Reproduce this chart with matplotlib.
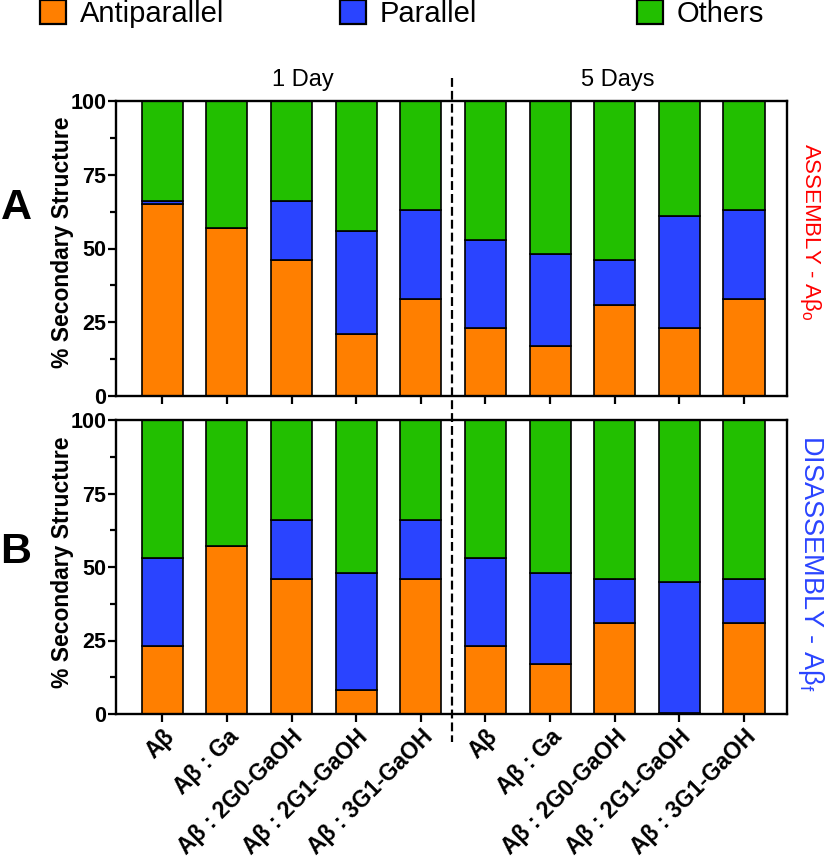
import matplotlib
matplotlib.use('Agg')
import matplotlib.pyplot as plt
from matplotlib.patches import Rectangle
from matplotlib.lines import Line2D
import matplotlib.transforms as mtransforms
from matplotlib.ticker import MultipleLocator
import numpy as np

plt.rcParams['font.family'] = ['Liberation Sans', 'DejaVu Sans']
plt.rcParams['mathtext.fontset'] = 'custom'
plt.rcParams['mathtext.rm'] = 'Liberation Sans'
plt.rcParams['mathtext.it'] = 'Liberation Sans:italic'
plt.rcParams['mathtext.bf'] = 'Liberation Sans:bold'

# ---------------- data ----------------
categories = ['Aβ', 'Aβ : Ga', 'Aβ : 2G0-GaOH', 'Aβ : 2G1-GaOH', 'Aβ : 3G1-GaOH',
              'Aβ', 'Aβ : Ga', 'Aβ : 2G0-GaOH', 'Aβ : 2G1-GaOH', 'Aβ : 3G1-GaOH']
groups = ['1 Day', '5 Days']
series_names = ['Antiparallel', 'Parallel', 'Others']

antiparallel_A = [65, 57, 46, 21, 33, 23, 17, 31, 23, 33]
parallel_A = [1, 0, 20, 35, 30, 30, 31, 15, 38, 30]
others_A = [34, 43, 34, 44, 37, 47, 52, 54, 39, 37]

antiparallel_B = [23, 57, 46, 8, 46, 23, 17, 31, 0.5, 31]
parallel_B = [30, 0, 20, 40, 20, 30, 31, 15, 44.5, 15]
others_B = [47, 43, 34, 52, 34, 47, 52, 54, 55, 54]

yticks = [0, 25, 50, 75, 100]
panel_labels = ['A', 'B']
side_labels = ['ASSEMBLY - Aβ$_{\\mathrm{o}}$', 'DISASSEMBLY - Aβ$_{\\mathrm{f}}$']

# ---------------- style ----------------
colors = ['#FF7F00', '#2A44FF', '#22BF00']
side_colors = ['#FF0000', '#2A44FF']

W, H = 827, 858
fig = plt.figure(figsize=(W / 100, H / 100), dpi=100)


def fx(px):
    return px / W


def fy(py):
    return 1 - py / H


L, R = 116, 787
axA = fig.add_axes([fx(L), fy(396), fx(R) - fx(L), fy(101) - fy(396)])
axB = fig.add_axes([fx(L), fy(714), fx(R) - fx(L), fy(420) - fy(714)])

x = np.arange(len(categories))
bw = 0.635
for ax, anti, para, oth in [(axA, antiparallel_A, parallel_A, others_A),
                            (axB, antiparallel_B, parallel_B, others_B)]:
    anti = np.array(anti, float)
    para = np.array(para, float)
    oth = np.array(oth, float)
    ax.bar(x, anti, width=bw, color=colors[0], edgecolor='black', linewidth=1.2, zorder=2)
    ax.bar(x, para, bottom=anti, width=bw, color=colors[1], edgecolor='black', linewidth=1.2, zorder=2)
    ax.bar(x, oth, bottom=anti + para, width=bw, color=colors[2], edgecolor='black', linewidth=1.2, zorder=2)
    ax.set_xlim(-0.717, 9.665)
    ax.set_ylim(0, 100)
    ax.set_yticks(yticks)
    ax.yaxis.set_minor_locator(MultipleLocator(12.5))
    ax.set_xticks(x)
    for s in ax.spines.values():
        s.set_linewidth(1.7)
        s.set_zorder(3)
    ax.tick_params(axis='y', which='major', length=6, width=1.6, labelsize=15.5, pad=1)
    ax.tick_params(axis='y', which='minor', length=4, width=1.6)
    ax.tick_params(axis='x', which='major', length=6, width=1.6, pad=2)
    for lab in ax.get_yticklabels():
        lab.set_fontweight('bold')

axA.set_xticklabels([])
axB.set_xticklabels(categories, rotation=45, ha='right', va='top',
                    rotation_mode='anchor', fontsize=16.5, fontweight='bold')

# dashed separator spanning both panels
tr = mtransforms.blended_transform_factory(axB.transData, fig.transFigure)
fig.add_artist(Line2D([4.485, 4.485], [fy(78), fy(742)], transform=tr,
                      color='black', lw=1.6, ls=(0, (4, 1.8))))

# group labels
trA = mtransforms.blended_transform_factory(axA.transData, fig.transFigure)
axA.text(2.17, fy(80), groups[0], transform=trA, ha='center', va='center', fontsize=17, clip_on=False)
axA.text(7.05, fy(80), groups[1], transform=trA, ha='center', va='center', fontsize=17, clip_on=False)

# y labels
for yc in [242, 562]:
    fig.text(fx(63), fy(yc), '% Secondary Structure', rotation=90, ha='center', va='center',
             fontsize=16.5, fontweight='bold')

# panel letters
fig.text(fx(16), fy(208), panel_labels[0], ha='center', va='center', fontsize=31, fontweight='bold')
fig.text(fx(16), fy(552), panel_labels[1], ha='center', va='center', fontsize=31, fontweight='bold')

# side labels
fig.text(fx(811), fy(232), side_labels[0], rotation=-90, ha='center', va='center',
         fontsize=16, color=side_colors[0])
fig.text(fx(811), fy(563), side_labels[1], rotation=-90, ha='center', va='center',
         fontsize=19.5, color=side_colors[1])

# legend
leg_x = [40, 340, 637]
for i, name in enumerate(series_names):
    fig.add_artist(Rectangle((fx(leg_x[i]), fy(24)), fx(26), 24 / H, transform=fig.transFigure,
                             facecolor=colors[i], edgecolor='black', lw=1.6, clip_on=False))
    fig.text(fx(leg_x[i] + 40), fy(22), name, ha='left', va='baseline', fontsize=21)

fig.savefig('out.png', dpi=100)
